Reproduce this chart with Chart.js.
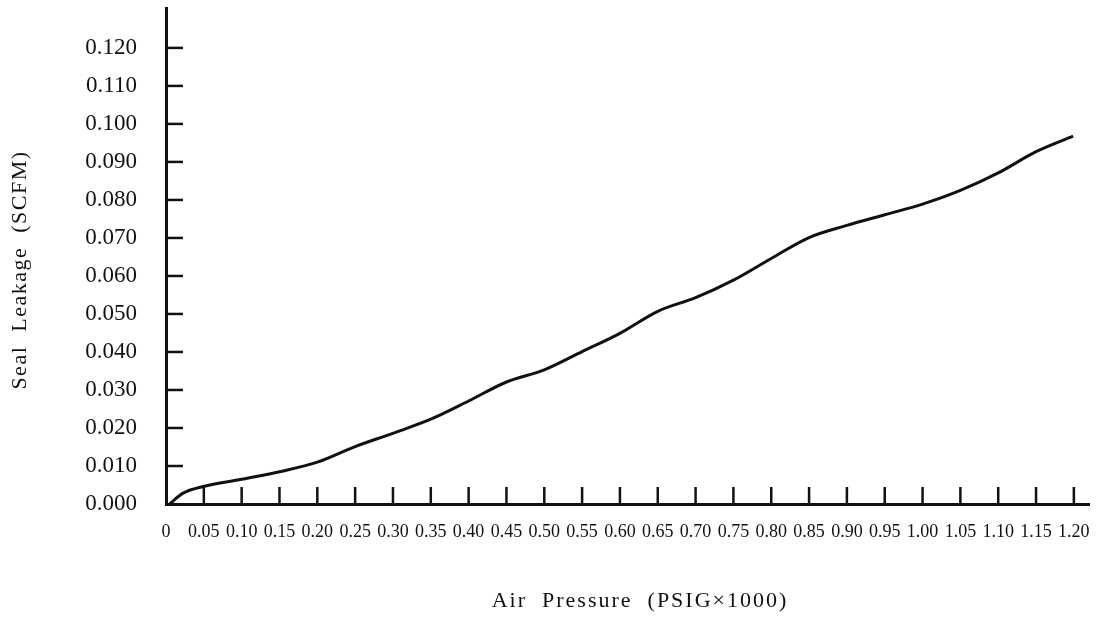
<!DOCTYPE html>
<html>
<head>
<meta charset="utf-8">
<script src="https://cdn.jsdelivr.net/npm/chart.js@4/dist/chart.umd.min.js"></script>
<style>
  html, body { margin: 0; padding: 0; background: #fff; }
  #wrap { width: 1101px; height: 618px; }
</style>
</head>
<body>
<div id="wrap"><canvas id="leakChart" width="1101" height="618"></canvas></div>
<script>
// Air pressure (PSIG x 1000) vs seal leakage (SCFM)
const pressure = [0.005, 0.022, 0.049, 0.10, 0.15, 0.20, 0.25, 0.30, 0.35, 0.40, 0.45, 0.50,
                  0.55, 0.60, 0.65, 0.70, 0.75, 0.80, 0.85, 0.90, 0.95, 1.00, 1.05, 1.10, 1.15, 1.199];
const leakage = [0.0000, 0.0028, 0.0046, 0.0065, 0.0085, 0.0110, 0.0151, 0.0186, 0.0223, 0.0271, 0.0321, 0.0353,
                 0.0401, 0.0449, 0.0507, 0.0543, 0.0589, 0.0646, 0.0701, 0.0733, 0.0761, 0.0789, 0.0825, 0.0871, 0.0927, 0.0968];

const xTickValues = [0, 0.05, 0.10, 0.15, 0.20, 0.25, 0.30, 0.35, 0.40, 0.45, 0.50, 0.55, 0.60,
                     0.65, 0.70, 0.75, 0.80, 0.85, 0.90, 0.95, 1.00, 1.05, 1.10, 1.15, 1.20];
const xTickLabels = ['0', '0.05', '0.10', '0.15', '0.20', '0.25', '0.30', '0.35', '0.40', '0.45', '0.50', '0.55', '0.60',
                     '0.65', '0.70', '0.75', '0.80', '0.85', '0.90', '0.95', '1.00', '1.05', '1.10', '1.15', '1.20'];
const yTickValues = [0, 0.01, 0.02, 0.03, 0.04, 0.05, 0.06, 0.07, 0.08, 0.09, 0.10, 0.11, 0.12];
const yTickLabels = ['0.000', '0.010', '0.020', '0.030', '0.040', '0.050', '0.060', '0.070', '0.080', '0.090', '0.100', '0.110', '0.120'];

const xTitle = 'Air  Pressure  (PSIG\u00D71000)';
const yTitle = 'Seal  Leakage  (SCFM)';

const ink = '#111';
const serif = '"Liberation Serif", "Times New Roman", serif';

// tick marks point into the plot, and the axis titles are spaced out, so draw those by hand
const innerTicks = {
    id: 'innerTicks',
    beforeDatasetsDraw(chart) {
        const { ctx, scales: { x, y } } = chart;
        ctx.save();
        ctx.strokeStyle = ink;
        ctx.lineWidth = 2.5;
        xTickValues.forEach(v => {
            if (v === 0) return;
            const px = x.getPixelForValue(v);
            ctx.beginPath();
            ctx.moveTo(px, y.bottom);
            ctx.lineTo(px, y.bottom - 17);
            ctx.stroke();
        });
        yTickValues.forEach(v => {
            if (v === 0) return;
            const py = y.getPixelForValue(v);
            ctx.beginPath();
            ctx.moveTo(x.left, py);
            ctx.lineTo(x.left + 17, py);
            ctx.stroke();
        });
        ctx.restore();
    },
    afterDraw(chart) {
        const { ctx } = chart;
        ctx.save();
        ctx.fillStyle = ink;
        ctx.font = '22px ' + serif;
        ctx.textAlign = 'center';
        ctx.textBaseline = 'middle';
        ctx.letterSpacing = '2px';
        ctx.fillText(xTitle, 640, 601);

        ctx.letterSpacing = '1.5px';
        ctx.translate(20, 270);
        ctx.rotate(-Math.PI / 2);
        ctx.fillText(yTitle, 0, 0);
        ctx.restore();
    }
};

// fixed axis boxes so the plot area lands where the original has it
function fixBox(scale, size) {
    if (scale.isHorizontal()) scale.height = size;
    else scale.width = size;
    scale.paddingTop = 0;
    scale.paddingBottom = 0;
    scale.paddingLeft = 0;
    scale.paddingRight = 0;
}

new Chart(document.getElementById('leakChart'), {
    type: 'line',
    data: {
        datasets: [{
            label: 'Seal Leakage',
            data: pressure.map((p, i) => ({ x: p, y: leakage[i] })),
            borderColor: ink,
            borderWidth: 3,
            pointRadius: 0,
            fill: false,
            cubicInterpolationMode: 'monotone',
        }],
    },
    options: {
        responsive: false,
        animation: false,
        devicePixelRatio: 1,
        layout: { padding: { left: 0, top: 8, right: 12, bottom: 0 } },
        plugins: {
            legend: { display: false },
            tooltip: { enabled: false },
        },
        scales: {
            x: {
                type: 'linear',
                min: 0,
                max: 1.22,
                afterFit: scale => fixBox(scale, 114),
                afterBuildTicks: scale => { scale.ticks = xTickValues.map(v => ({ value: v })); },
                grid: { display: false, drawTicks: false },
                border: { display: true, color: ink, width: 3 },
                ticks: {
                    autoSkip: false,
                    maxRotation: 0,
                    minRotation: 0,
                    padding: 17,
                    color: ink,
                    font: { family: serif, size: 18 },
                    callback: (v, i) => xTickLabels[i],
                },
            },
            y: {
                type: 'linear',
                min: 0,
                max: 0.1305,
                afterFit: scale => fixBox(scale, 166),
                afterBuildTicks: scale => { scale.ticks = yTickValues.map(v => ({ value: v })); },
                grid: { display: false, drawTicks: false },
                border: { display: true, color: ink, width: 3 },
                ticks: {
                    padding: 29,
                    color: ink,
                    font: { family: serif, size: 23 },
                    callback: (v, i) => yTickLabels[i],
                },
            },
        },
    },
    plugins: [innerTicks],
});
</script>
</body>
</html>
